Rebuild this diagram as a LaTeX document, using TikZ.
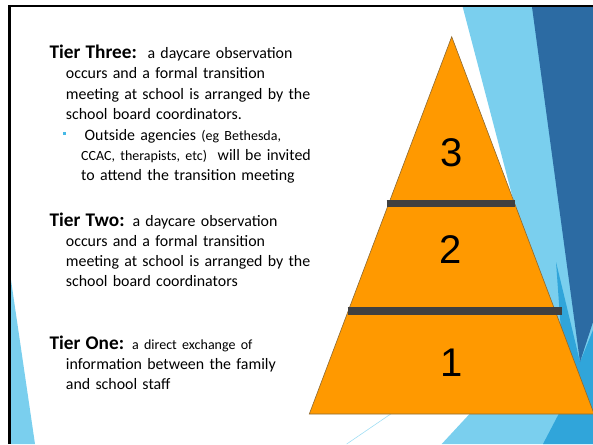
\documentclass[tikz,border=0pt]{standalone}
\usepackage{fontspec}
\setmainfont{Carlito}
\newfontfamily\digitfont{Liberation Sans}
\usepackage{xcolor}
\definecolor{pyramidorange}{RGB}{255,153,0}
\definecolor{pyramidedge}{RGB}{140,105,50}
\definecolor{bardark}{RGB}{64,64,64}
\definecolor{lightsky}{RGB}{122,207,238}
\definecolor{paleline}{RGB}{160,222,244}
\definecolor{deepblue}{RGB}{44,107,163}
\definecolor{midblue}{RGB}{48,165,218}
\definecolor{bulletblue}{RGB}{70,185,230}
\usepackage{tikz}
\usetikzlibrary{positioning}
\newcommand{\tierfont}{\fontsize{15.9}{20}\selectfont\hyphenpenalty=10000\relax}
\newcommand{\tierlabel}[1]{{\fontsize{19.3}{20}\selectfont\textbf{#1}}}
\newcommand{\smalltext}[1]{{\fontsize{14}{20}\selectfont #1}}
\newcommand{\indentline}{\hspace*{16.4pt}}
\tikzset{
    tier/.style={anchor=base west, inner sep=0pt, text width=280pt, align=left, font=\tierfont},
    agency/.style={tier, text width=250pt},
    bulletmark/.style={fill=bulletblue, minimum size=3.6pt, inner sep=0pt},
    level/.style={anchor=base, inner sep=0pt, font=\digitfont\fontsize{40}{44}\selectfont},
    divider/.style={draw=bardark, line width=7.3pt},
    pyramid/.style={fill=pyramidorange, draw=pyramidedge, line width=0.6pt, line join=miter},
    frame/.style={draw=black, line width=2.4pt}
}

\begin{document}
\begin{tikzpicture}[x=1pt, y=-1pt]
  \useasboundingbox (0,0) rectangle (593,444);

  % background
  \fill[lightsky] (11,280) -- (11,444) -- (35,444) -- cycle;
  \fill[lightsky] (462.7,7) -- (593,7) -- (593,444) -- (441.7,444) -- (547.4,330) -- cycle;
  \fill[midblue] (556,262) -- (580,362) -- (593,330) -- (593,444) -- (543,444) -- (566,400) -- cycle;
  \fill[deepblue] (532,7) -- (593,7) -- (593,322) -- (580,362) -- cycle;
  \draw[paleline, line width=0.6pt] (346.7,444) -- (420,394);
  \draw[frame] (9.6,444) -- (9.6,6.2) -- (593,6.2);

  % pyramid
  \coordinate (apex) at (451.7,36.7);
  \coordinate (base-left) at (309.3,414);
  \coordinate (base-right) at (594.1,414);
  \draw[pyramid] (apex) -- (base-left) -- (base-right) -- cycle;

  \coordinate (top-bar-west) at (386.7,203.7);
  \coordinate (top-bar-east) at (515,203.7);
  \coordinate (low-bar-west) at (347.7,311);
  \coordinate (low-bar-east) at (562,311);
  \draw[divider] (top-bar-west) -- (top-bar-east);
  \draw[divider] (low-bar-west) -- (low-bar-east);

  \path
    (451.7,166.5) node[level] (level3) {3}
    ++(-0.7,96.8) node[level] (level2) {2}
    ++(0.7,113.4) node[level] (level1) {1};

  % tiers
  \path
    (49.3,59) node[tier] (tier-three) {\tierlabel{Tier Three:}\ \ a daycare observation\newline
      \indentline occurs and a formal transition\newline
      \indentline meeting at school is arranged by the\newline
      \indentline school board coordinators.}
    ++(31.7,81) node[agency] (agencies) {\hspace*{3.5pt}Outside agencies \smalltext{(eg Bethesda,}\newline
      \smalltext{CCAC, therapists, etc)}\ \ will be invited\newline
      to attend the transition meeting}
    ++(-31.7,86) node[tier] (tier-two) {\tierlabel{Tier Two:} a daycare observation\newline
      \indentline occurs and a formal transition\newline
      \indentline meeting at school is arranged by the\newline
      \indentline school board coordinators}
    ++(0,123.3) node[tier] (tier-one) {\tierlabel{Tier One:} \smalltext{a direct exchange of}\newline
      \indentline information between the family\newline
      \indentline and school staff};

  \node[bulletmark] (agency-bullet) at (64.6,133.4) {};
\end{tikzpicture}
\end{document}
